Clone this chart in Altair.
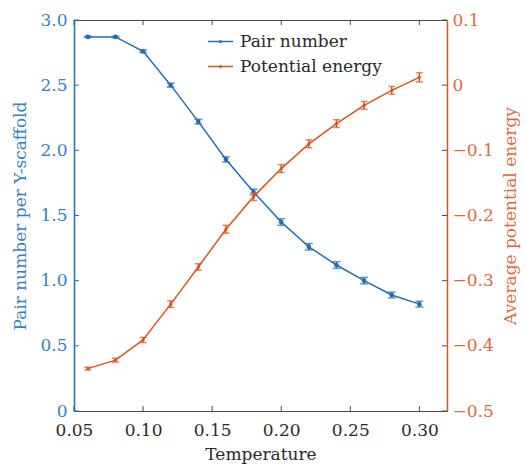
import altair as alt
import pandas as pd

# Simulation results versus temperature
temperature = [0.06, 0.08, 0.10, 0.12, 0.14, 0.16, 0.18, 0.20, 0.22, 0.24, 0.26, 0.28, 0.30]
pair_number = [2.87, 2.87, 2.76, 2.50, 2.22, 1.93, 1.68, 1.45, 1.26, 1.12, 1.00, 0.89, 0.82]
pair_err = [0.005, 0.005, 0.010, 0.015, 0.018, 0.020, 0.022, 0.025, 0.025, 0.025, 0.025, 0.022, 0.022]
energy = [-0.435, -0.422, -0.391, -0.336, -0.279, -0.221, -0.171, -0.128, -0.090, -0.059, -0.031, -0.008, 0.012]
energy_err = [0.002, 0.003, 0.004, 0.005, 0.005, 0.006, 0.006, 0.006, 0.006, 0.006, 0.006, 0.006, 0.007]

series_names = ["Pair number", "Potential energy"]
x_ticks = [0.05, 0.10, 0.15, 0.20, 0.25, 0.30]
left_ticks = [0, 0.5, 1.0, 1.5, 2.0, 2.5, 3.0]
right_ticks = [-0.5, -0.4, -0.3, -0.2, -0.1, 0.0, 0.1]

BLUE = "#1f6fb5"
BLUE_TXT = "#3482c4"
ORANGE = "#d9541c"
ORANGE_TXT = "#de6a3c"
FRAME = "#4a4a4a"
TEXT = "#2a2a2a"
FONT = "DejaVu Serif"
FS = 17
W, H = 373, 391

pair_df = pd.DataFrame({"t": temperature, "v": pair_number, "e": pair_err, "series": series_names[0]})
energy_df = pd.DataFrame({"t": temperature, "v": energy, "e": energy_err, "series": series_names[1]})

x_scale = alt.Scale(domain=[0.05, 0.32], nice=False)
y_left = alt.Scale(domain=[0, 3], nice=False)
y_right = alt.Scale(domain=[-0.5, 0.1], nice=False)
color_scale = alt.Scale(domain=series_names, range=[BLUE, ORANGE])

common = dict(ticks=False, grid=False, labelFlush=False, labelFont=FONT, labelFontSize=FS,
              titleFont=FONT, titleFontSize=FS, titleFontWeight="normal")
# two no-break spaces nudge the temperature labels slightly to the right of their ticks
x_axis = alt.Axis(values=x_ticks, domainColor=FRAME, labelColor=TEXT,
                  labelExpr="'\u00a0\u00a0' + format(datum.value, '.2f')",
                  labelPadding=11, title="Temperature", titleColor=TEXT,
                  titlePadding=8, **common)
left_axis = alt.Axis(values=left_ticks, orient="left", domainColor=BLUE, domainWidth=1.5,
                     labelExpr="datum.value == 0 ? '0' : format(datum.value, '.1f')",
                     labelColor=BLUE_TXT, labelPadding=7,
                     title="Pair number per Y-scaffold", titleColor=BLUE_TXT, titlePadding=10, **common)
right_axis = alt.Axis(values=right_ticks, orient="right", domainColor=ORANGE, domainWidth=1.5,
                      labelExpr="datum.value == 0 ? '0' : format(datum.value, '.1f')",
                      labelColor=ORANGE_TXT, labelPadding=5, titleAngle=270, titleBaseline="top",
                      title="Average potential energy", titleColor=ORANGE_TXT, titlePadding=9, **common)

# line segment with a dot in the middle (same winding so the dot stays filled)
LEGEND_SYMBOL = ("M-1,-0.06H1V0.06H-1Z "
                 "M-0.13,0 a0.13,0.13 0 1,1 0.26,0 a0.13,0.13 0 1,1 -0.26,0")


def series_layer(df, scale, color, axis, pt_size, cap):
    base = alt.Chart(df)
    X = alt.X("t:Q", scale=x_scale, axis=x_axis)
    line = base.mark_line(color=color, strokeWidth=1.5).encode(
        x=X, y=alt.Y("v:Q", scale=scale, axis=axis))
    bars = base.transform_calculate(lo="datum.v - datum.e", hi="datum.v + datum.e")
    err = bars.mark_rule(color=color, strokeWidth=1.5).encode(
        x=X, y=alt.Y("lo:Q", scale=scale, axis=axis), y2="hi:Q")
    cap_lo = bars.mark_tick(color=color, orient="horizontal", size=cap, thickness=1.5).encode(
        x=X, y=alt.Y("lo:Q", scale=scale, axis=axis))
    cap_hi = bars.mark_tick(color=color, orient="horizontal", size=cap, thickness=1.5).encode(
        x=X, y=alt.Y("hi:Q", scale=scale, axis=axis))
    pts = base.mark_point(filled=True, opacity=1, size=pt_size).encode(
        x=X,
        y=alt.Y("v:Q", scale=scale, axis=axis),
        color=alt.Color("series:N", scale=color_scale, legend=alt.Legend(
            title=None, orient="none", legendX=134, legendY=9,
            symbolType=LEGEND_SYMBOL, symbolSize=625, symbolStrokeWidth=0, symbolOpacity=1,
            labelFont=FONT, labelFontSize=FS, labelColor=TEXT,
            labelOffset=7, rowPadding=4)),
    )
    return [line, err, cap_lo, cap_hi, pts]


# inward tick marks along all four sides
xt = alt.Chart(pd.DataFrame({"v": x_ticks}))
x_bottom = xt.mark_rule(color=FRAME).encode(
    x=alt.X("v:Q", scale=x_scale, axis=x_axis), y=alt.value(H), y2=alt.value(H - 5))
x_top = xt.mark_rule(color=FRAME).encode(
    x=alt.X("v:Q", scale=x_scale, axis=x_axis), y=alt.value(0), y2=alt.value(5))
l_ticks = alt.Chart(pd.DataFrame({"v": left_ticks})).mark_rule(color=BLUE).encode(
    y=alt.Y("v:Q", scale=y_left, axis=left_axis), x=alt.value(0), x2=alt.value(5))
r_ticks = alt.Chart(pd.DataFrame({"v": right_ticks})).mark_rule(color=FRAME).encode(
    y=alt.Y("v:Q", scale=y_right, axis=right_axis), x=alt.value(W), x2=alt.value(W - 5))

left_group = alt.layer(*series_layer(pair_df, y_left, BLUE, left_axis, 22, 8), l_ticks, x_bottom, x_top)
right_group = alt.layer(*series_layer(energy_df, y_right, ORANGE, right_axis, 10, 7), r_ticks)

chart = alt.layer(left_group, right_group).resolve_scale(y="independent").properties(
    width=W, height=H, autosize="none", background="white",
    padding={"left": 74, "top": 20, "right": 79, "bottom": 55},
).configure_view(stroke=FRAME, strokeWidth=1)

chart.save("out.html", embed_options={"renderer": "svg", "actions": False})
